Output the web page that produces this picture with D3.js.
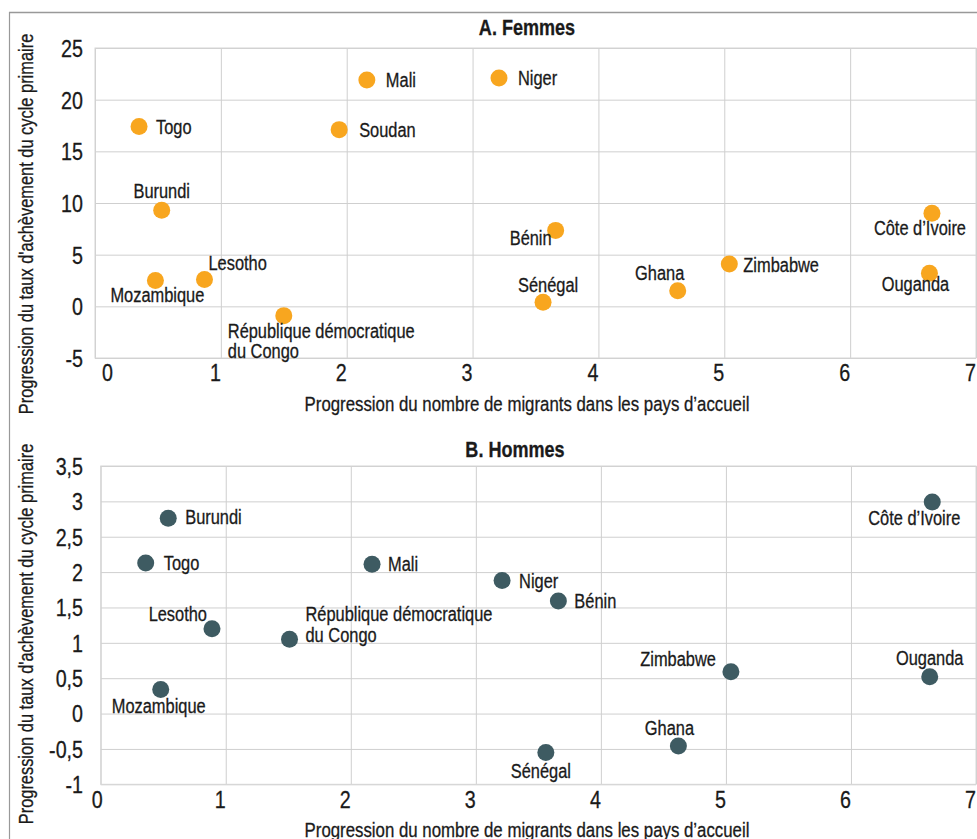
<!DOCTYPE html>
<html>
<head>
<meta charset="utf-8">
<script src="https://cdn.jsdelivr.net/npm/d3@7"></script>
<style>
  html, body { margin: 0; padding: 0; background: #fff; }
  svg { display: block; }
  text { font-family: "Liberation Sans", Arial, sans-serif; fill: #1a1a1a; stroke: #1a1a1a; stroke-width: 0.3px; }
</style>
</head>
<body>
<svg id="chart" width="977" height="839"></svg>
<script>
// ---------- DATA ----------
const xTicks = [0, 1, 2, 3, 4, 5, 6, 7];

const femmesCountries = ["Togo", "Mali", "Soudan", "Burundi", "Mozambique", "Lesotho",
  "République démocratique\ndu Congo", "Niger", "Bénin", "Sénégal", "Ghana", "Zimbabwe",
  "Côte d’Ivoire", "Ouganda"];
const femmesMigrants = [0.35, 2.16, 1.94, 0.53, 0.48, 0.87, 1.50, 3.21, 3.66, 3.56, 4.63, 5.04, 6.65, 6.63];
const femmesAchevement = [17.4, 21.9, 17.1, 9.3, 2.5, 2.6, -0.9, 22.1, 7.35, 0.4, 1.5, 4.1, 9.0, 3.2];
const femmesYTicks = [-5, 0, 5, 10, 15, 20, 25];

const hommesCountries = ["Burundi", "Togo", "Mali", "Lesotho", "République démocratique\ndu Congo",
  "Mozambique", "Niger", "Bénin", "Zimbabwe", "Ouganda", "Côte d’Ivoire", "Ghana", "Sénégal"];
const hommesMigrants = [0.54, 0.36, 2.17, 0.89, 1.51, 0.48, 3.21, 3.66, 5.04, 6.63, 6.65, 4.62, 3.56];
const hommesAchevement = [2.76, 2.13, 2.11, 1.20, 1.05, 0.34, 1.88, 1.59, 0.59, 0.52, 2.99, -0.46, -0.55];
const hommesYTicks = [-1, -0.5, 0, 0.5, 1, 1.5, 2, 2.5, 3, 3.5];

const xTitle = "Progression du nombre de migrants dans les pays d’accueil";
const yTitle = "Progression du taux d'achèvement du cycle primaire";

// ---------- LABEL LAYOUT (offsets from dot centre, px) ----------
const femmesLabelLayout = {
  "Togo": ["start", 17, 7], "Mali": ["start", 19, 7], "Soudan": ["start", 20, 7],
  "Burundi": ["middle", 0, -12], "Lesotho": ["start", 4, -9], "Mozambique": ["middle", 2, 21],
  "République démocratique\ndu Congo": ["start", -56, 22], "Niger": ["start", 19, 7],
  "Bénin": ["end", -4, 15], "Sénégal": ["middle", 5, -10], "Ghana": ["middle", -18, -11],
  "Zimbabwe": ["start", 14, 8], "Côte d’Ivoire": ["middle", -12, 22], "Ouganda": ["middle", -14, 18]
};
const hommesLabelLayout = {
  "Burundi": ["start", 17, 6], "Togo": ["start", 18, 7], "Mali": ["start", 16, 7],
  "Lesotho": ["end", -5, -8], "République démocratique\ndu Congo": ["start", 16, -18],
  "Mozambique": ["middle", -2, 23], "Niger": ["start", 17, 7], "Bénin": ["start", 16, 7],
  "Zimbabwe": ["end", -15, -6], "Ouganda": ["middle", 0, -12], "Côte d’Ivoire": ["middle", -18, 23],
  "Ghana": ["middle", -9, -11], "Sénégal": ["middle", -5, 26]
};

// ---------- DRAW ----------
const NARROW = 0.82; // condensed look of the original typeface
const svg = d3.select("#chart");
const fr = d3.formatLocale({ decimal: ",", thousands: " ", grouping: [3], currency: ["", " €"], minus: "-" });
const fmt = fr.format("~g");

// frame
svg.append("line").attr("x1", 9.5).attr("x2", 9.5).attr("y1", 12).attr("y2", 839)
  .attr("stroke", "#999").attr("stroke-width", 1.2);
svg.append("line").attr("x1", 9).attr("x2", 977).attr("y1", 12.5).attr("y2", 12.5)
  .attr("stroke", "#999").attr("stroke-width", 1.5);

function panel(cfg) {
  const x = d3.scaleLinear().domain([0, 7]).range([cfg.left, cfg.right]);
  const y = d3.scaleLinear().domain(cfg.yDomain).range([cfg.bottom, cfg.top]);
  const g = svg.append("g");

  // gridlines
  g.append("g").attr("transform", `translate(0,${cfg.bottom})`)
    .call(d3.axisBottom(x).tickValues(xTicks).tickSize(-(cfg.bottom - cfg.top)).tickFormat(""))
    .call(s => s.select(".domain").remove())
    .call(s => s.selectAll("line").attr("stroke", "#cfcfcf"));
  g.append("g").attr("transform", `translate(${cfg.left},0)`)
    .call(d3.axisLeft(y).tickValues(cfg.yTicks).tickSize(-(cfg.right - cfg.left)).tickFormat(""))
    .call(s => s.select(".domain").remove())
    .call(s => s.selectAll("line").attr("stroke", "#cfcfcf"));
  g.append("rect").attr("x", cfg.left).attr("y", cfg.top)
    .attr("width", cfg.right - cfg.left).attr("height", cfg.bottom - cfg.top)
    .attr("fill", "none").attr("stroke", "#d6d6d6");

  // x tick labels
  g.append("g").attr("class", "xlab").attr("transform", `translate(0,${cfg.bottom})`)
    .call(d3.axisBottom(x).tickValues(xTicks).tickSize(0).tickPadding(0).tickFormat(fmt))
    .call(s => s.select(".domain").remove())
    .call(s => s.selectAll("text")
      .attr("font-size", 24).attr("dy", null).attr("y", cfg.xLabelDy)
      .attr("dx", d => (d === 0 ? cfg.zeroDx : -6)).attr("fill", "#1a1a1a"));

  // y tick labels
  g.append("g").attr("class", "ylab").attr("transform", `translate(${cfg.left},0)`)
    .call(d3.axisLeft(y).tickValues(cfg.yTicks).tickSize(0).tickPadding(0).tickFormat(fmt))
    .call(s => s.select(".domain").remove())
    .call(s => s.selectAll("text")
      .attr("font-size", 24).attr("x", 83 - cfg.left).attr("dy", "0.35em").attr("fill", "#1a1a1a"));
  g.selectAll(".xlab, .ylab").attr("font-family", null).attr("font-size", null);

  // titles
  g.append("text").attr("x", cfg.titleX).attr("y", cfg.titleY).attr("text-anchor", "middle")
    .attr("font-size", 22).attr("font-weight", "bold").text(cfg.title);
  g.append("text").attr("x", 527).attr("y", cfg.xTitleY).attr("text-anchor", "middle")
    .attr("font-size", 20.5).text(xTitle);
  g.append("text").attr("transform", `translate(33,${cfg.yTitleCY}) rotate(-90)`)
    .attr("text-anchor", "middle").attr("font-size", 20).text(yTitle);

  // points
  const data = cfg.countries.map((c, i) => ({ c, xv: cfg.xs[i], yv: cfg.ys[i] }));
  g.append("g").selectAll("circle").data(data).join("circle")
    .attr("cx", d => x(d.xv)).attr("cy", d => y(d.yv)).attr("r", 8.5)
    .attr("fill", cfg.color);

  // labels (one text per line)
  const lines = [];
  data.forEach(d => {
    const L = cfg.layout[d.c];
    d.c.split("\n").forEach((ln, i) => lines.push({
      t: ln, anchor: L[0], x: x(d.xv) + L[1], y: y(d.yv) + L[2] + i * 20.5
    }));
  });
  g.append("g").selectAll("text").data(lines).join("text")
    .attr("font-size", 20).attr("text-anchor", d => d.anchor)
    .attr("x", d => d.x).attr("y", d => d.y).text(d => d.t);
}

panel({
  left: 95, right: 976, top: 48, bottom: 358, yDomain: [-5, 25], yTicks: femmesYTicks,
  countries: femmesCountries, xs: femmesMigrants, ys: femmesAchevement, layout: femmesLabelLayout,
  color: "#F8A61F", title: "A. Femmes", titleX: 527, titleY: 35, xTitleY: 411, yTitleCY: 224,
  xLabelDy: 23, zeroDx: 12
});
panel({
  left: 100.7, right: 976, top: 466, bottom: 784.3, yDomain: [-1, 3.5], yTicks: hommesYTicks,
  countries: hommesCountries, xs: hommesMigrants, ys: hommesAchevement, layout: hommesLabelLayout,
  color: "#3E5B62", title: "B. Hommes", titleX: 515, titleY: 457, xTitleY: 837, yTitleCY: 634,
  xLabelDy: 24, zeroDx: -4
});

// condense every text horizontally (keeps it as real text)
svg.selectAll("text").each(function() {
  const w = this.getComputedTextLength();
  if (w > 0) d3.select(this).attr("textLength", w * NARROW).attr("lengthAdjust", "spacingAndGlyphs");
});
</script>
</body>
</html>
